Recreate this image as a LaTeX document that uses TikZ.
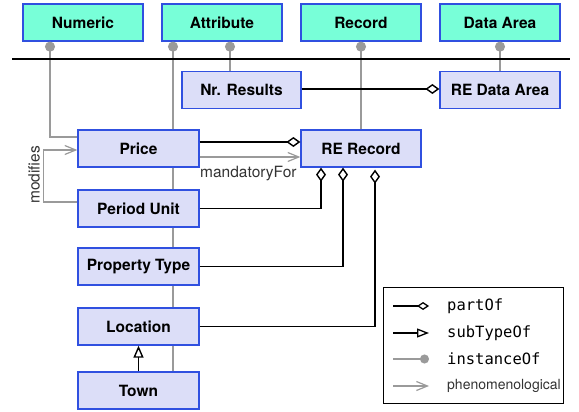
\documentclass[tikz,border=0pt]{standalone}
\usepackage{fontspec}
\setmainfont{TeX Gyre Heros}
\setmonofont{DejaVu Sans Mono}
\usetikzlibrary{arrows.meta,backgrounds}
\definecolor{topfill}{HTML}{78FFD8}
\definecolor{lowfill}{HTML}{DCDEF8}
\definecolor{bordblue}{HTML}{3050E0}
\definecolor{lgray}{HTML}{9A9A9A}
\definecolor{dgray}{HTML}{333333}
\begin{document}
\begin{tikzpicture}[x=1pt,y=-1pt,
  box/.style={draw=bordblue, line width=1.3pt, minimum width=121pt, minimum height=37pt, inner sep=0pt, font=\fontsize{15.5}{18}\selectfont\bfseries},
  topbox/.style={box, fill=topfill, minimum width=120pt},
  lowbox/.style={box, fill=lowfill},
  inst/.style={draw=lgray, line width=1.3pt, -{Circle[length=10pt]}},
  instline/.style={draw=lgray, line width=1.3pt},
  partof/.style={draw=black, line width=1.4pt, -{Diamond[open, length=14pt, width=10pt]}},
  subtype/.style={draw=black, line width=1.4pt, -{Triangle[open, length=12pt, width=10pt]}},
  phen/.style={draw=lgray, line width=1.2pt, -{Straight Barb[length=11pt, width=9pt]}},
  lbl/.style={inner sep=0pt, text=dgray, font=\fontsize{15.5}{18}\selectfont},
  legtext/.style={inner sep=0pt, anchor=west, font=\fontsize{15.5}{18}\selectfont\ttfamily},
]
\useasboundingbox (0,0) rectangle (579,412);

% nodes
\node[topbox] (numeric) at (83,22.5) {Numeric};
\node[topbox] (attribute) at (222,22.5) {Attribute};
\node[topbox] (record) at (361,22.5) {Record};
\node[topbox] (dataarea) at (500,22.5) {Data Area};
\node[lowbox, minimum width=119pt] (nrresults) at (241.5,90) {Nr. Results};
\node[lowbox, minimum width=120pt] (redataarea) at (500,90) {RE Data Area};
\node[lowbox] (price) at (138.5,148.5) {Price};
\node[lowbox, minimum width=120pt] (rerecord) at (361,148.5) {RE Record};
\node[lowbox] (periodunit) at (138.5,208.5) {Period Unit};
\node[lowbox] (propertytype) at (138.5,266.5) {Property Type};
\node[lowbox] (location) at (138.5,326.5) {Location};
\node[lowbox] (town) at (138.5,390.5) {Town};

% x positions
\coordinate (xnum) at (50,0);
\coordinate (xattA) at (173,0);
\coordinate (xattB) at (230,0);
\coordinate (xpu) at (321,0);
\coordinate (xpt) at (343,0);
\coordinate (xloc) at (375,0);

% instanceOf
\begin{scope}[on background layer]
\draw[instline] (town.north -| xattA) -- (price.south -| xattA);
\end{scope}
\draw[inst] (price.north -| xattA) -- (attribute.south -| xattA);
\draw[inst] ([yshift=11.5pt]price.west) -| (numeric.south -| xnum);
\draw[inst] (nrresults.north -| xattB) -- (attribute.south -| xattB);
\draw[inst] (rerecord.north) -- (record.south);
\draw[inst] (redataarea.north) -- (dataarea.south);

% separator
\coordinate (sepL) at (12,59);
\coordinate (sepR) at (570,59);
\draw[line width=1.3pt] (sepL) -- (sepR);

% partOf
\draw[partof] ([yshift=1pt]nrresults.east) -- ([yshift=1pt]redataarea.west);
\draw[partof] ([yshift=6.5pt]price.east) -- ([yshift=6.5pt]rerecord.west);
\draw[partof] (periodunit.east) -| (rerecord.south -| xpu);
\draw[partof] (propertytype.east) -| (rerecord.south -| xpt);
\draw[partof, shorten >=2pt] (location.east) -| (rerecord.south -| xloc);

% phenomenological
\draw[phen] ([yshift=-8.5pt]price.east) -- ([yshift=-8.5pt]rerecord.west);
\node[lbl, anchor=base west] (mandlabel) at (200,177) {mandatoryFor};
\draw[phen] ([yshift=6.5pt]periodunit.west) -- ++(-34,0) |- ([yshift=-1.5pt]price.west);
\node[lbl, rotate=90] (modlabel) at (34,175) {modifies};

% subTypeOf
\draw[subtype] (town.north) -- (location.south);

% legend
\node[draw, line width=1pt, minimum width=180pt, minimum height=116pt, inner sep=0pt, anchor=north west] (legend) at (383,287) {};
\coordinate (l1a) at (393,306); \coordinate (l1b) at (429,306);
\coordinate (l2a) at (393,333); \coordinate (l2b) at (429,333);
\coordinate (l3a) at (393,359); \coordinate (l3b) at (429,359);
\coordinate (l4a) at (393,386); \coordinate (l4b) at (429,386);
\draw[draw=black, line width=1.3pt, -{Diamond[open, length=12pt, width=8pt]}] (l1a) -- (l1b);
\draw[draw=black, line width=1.3pt, -{Triangle[open, length=12pt, width=9pt]}] (l2a) -- (l2b);
\draw[draw=lgray, line width=1.3pt, -{Circle[length=9pt]}] (l3a) -- (l3b);
\draw[phen] (l4a) -- (l4b);
\node[legtext] (t1) at (447,306) {partOf};
\node[legtext] (t2) at (447,333) {subTypeOf};
\node[legtext] (t3) at (447,359) {instanceOf};
\node[legtext, text=dgray, font=\fontsize{14}{18}\selectfont] (t4) at (447,386) {phenomenological};
\end{tikzpicture}
\end{document}
